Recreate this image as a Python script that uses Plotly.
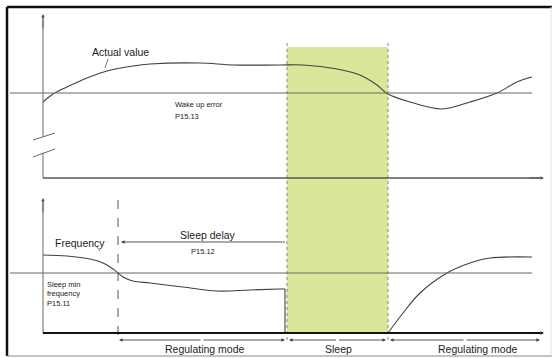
import plotly.graph_objects as go

# ---- data (schematic units: x to the right, y downward) ----
actual_x = [43, 53, 67, 87, 107, 133, 150, 200, 233, 280, 303, 337, 360, 377, 388, 410, 442, 470, 497, 517, 532]
actual_y = [102, 94, 87, 78, 71, 66, 64, 63, 65, 65, 65, 69, 75, 85, 94, 102, 109, 102, 93, 82, 77]

freq_before_x = [43, 67, 90, 103, 113, 118, 123, 133, 150, 183, 217, 250, 280, 285]
freq_before_y = [255, 256, 259, 263, 269, 273, 277, 281, 283, 287, 291, 290, 289, 289]
sleep_drop_y = 333

freq_after_x = [388, 403, 420, 447, 470, 490, 532]
freq_after_y = [333, 313, 293, 273, 263, 258, 257]

wake_level = 93
sleep_min_level = 273
sleep_start, sleep_end = 287, 388
regulate_start = 118

fig = go.Figure()

LINE = "#404040"
THIN = "#666666"
FONT = "Liberation Sans, Arial, sans-serif"

shapes = []
def seg(x0, y0, x1, y1, color=THIN, width=1, dash="solid"):
    shapes.append(dict(type="line", x0=x0, y0=y0, x1=x1, y1=y1, xref="x", yref="y",
                       line=dict(color=color, width=width, dash=dash)))

# frame
seg(7, 7, 552, 7, "#111111", 2.5)
seg(7, 7, 7, 356, "#111111", 2.5)
seg(7, 356, 552, 356, "#888888", 1)
seg(551, 7, 551, 356, "#e2e2e2", 1)

# sleep band
shapes.append(dict(type="rect", x0=sleep_start, x1=sleep_end, y0=47, y1=333, xref="x", yref="y",
                   fillcolor="#dbe69b", line=dict(width=0), layer="below"))
seg(sleep_start, 43, sleep_start, 343, "#888888", 1, "dot")
seg(sleep_end, 43, sleep_end, 343, "#888888", 1, "dot")
seg(regulate_start, 200, regulate_start, 342, "#555555", 1, "dash")

# thresholds
seg(10, wake_level, 532, wake_level, THIN, 1)
seg(10, sleep_min_level, 532, sleep_min_level, THIN, 1)

# top axes
seg(43, 17, 43, 137, "#777777", 1.1)
seg(43, 153, 43, 178, "#777777", 1.1)
seg(43, 178, 540, 178, "#555555", 1.3)
seg(33, 140, 55, 133, "#666666", 1)
seg(33, 157, 55, 149, "#666666", 1)

# bottom axes
seg(43, 202, 43, 333, "#777777", 1.1)
seg(43, 333, 540, 333, "#111111", 1.8)

# leader lines
seg(105, 68, 108, 59, "#555555", 0.8)
seg(97, 247, 100, 251, "#555555", 0.8)

spl = dict(color=LINE, width=1.1, shape="spline", smoothing=1.0)
fig.add_trace(go.Scatter(x=actual_x, y=actual_y, mode="lines", line=spl, hoverinfo="skip", showlegend=False))
fig.add_trace(go.Scatter(x=freq_before_x, y=freq_before_y, mode="lines", line=spl, hoverinfo="skip", showlegend=False))
fig.add_trace(go.Scatter(x=[freq_before_x[-1], freq_before_x[-1]], y=[freq_before_y[-1], sleep_drop_y], mode="lines",
                         line=dict(color=LINE, width=1.1), hoverinfo="skip", showlegend=False))
fig.add_trace(go.Scatter(x=freq_after_x, y=freq_after_y, mode="lines", line=spl, hoverinfo="skip", showlegend=False))

anns = []
def arrow(x_tip, y_tip, x_tail, y_tail, color="#444444"):
    anns.append(dict(x=x_tip, y=y_tip, ax=x_tail, ay=y_tail, xref="x", yref="y", axref="x", ayref="y",
                     text="", showarrow=True, arrowhead=2, arrowsize=0.8, arrowwidth=0.9, arrowcolor=color))

# axis arrowheads
arrow(43, 14, 43, 30, "#555555")
arrow(43, 198, 43, 214, "#555555")
arrow(544, 178, 528, 178, "#555555")
arrow(544, 333, 528, 333, "#111111")

# sleep delay arrow
arrow(121, 242, 284, 242)
seg(283, 242, 285, 242, "#444444", 1)

# mode arrows (double headed)
for a, b in [(119, 285), (289, 386), (390, 540)]:
    m = (a + b) / 2
    arrow(a, 340, m, 340)
    arrow(b, 340, m, 340)

def txt(x, y, s, size, anchor="center"):
    anns.append(dict(x=x, y=y, xref="x", yref="y", text=s, showarrow=False, xanchor=anchor, yanchor="middle",
                     font=dict(family=FONT, size=size, color="#222222")))

txt(120, 52, "Actual value", 10.5)
txt(173, 104, "Wake up error", 7.5, "left")
txt(173, 116, "P15.13", 7.5, "left")
txt(53, 243, "Frequency", 10.5, "left")
txt(208, 235, "Sleep delay", 10.5)
txt(203, 251, "P15.12", 7.5)
txt(45, 284, "Sleep min", 7.5, "left")
txt(45, 293, "frequency", 7.5, "left")
txt(45, 303, "P15.11", 7.5, "left")
txt(205, 349, "Regulating mode", 10.5)
txt(338, 349, "Sleep", 10.5)
txt(478, 349, "Regulating mode", 10.5)

fig.update_layout(
    width=553, height=358, autosize=False,
    margin=dict(l=0, r=0, t=0, b=0),
    paper_bgcolor="white", plot_bgcolor="white",
    xaxis=dict(range=[0, 553], visible=False, fixedrange=True),
    yaxis=dict(range=[358, 0], visible=False, fixedrange=True),
    shapes=shapes, annotations=anns, showlegend=False,
)

fig.write_html("out.html", config={"displayModeBar": False},
               post_script="document.body.style.margin='0px';document.body.style.overflow='hidden';")
